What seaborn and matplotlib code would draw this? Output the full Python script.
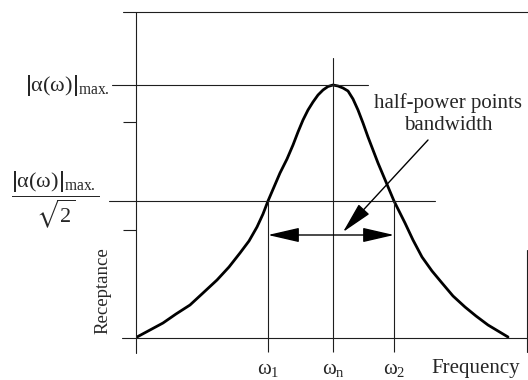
import matplotlib
matplotlib.use("Agg")
import matplotlib.pyplot as plt
import seaborn as sns
import pandas as pd

# Receptance curve (frequency vs. amplitude, arbitrary units)
freq = [1, 14, 27, 40, 54, 67, 81, 93, 104, 113, 121, 127, 132, 138, 144,
        151, 157, 162, 167, 172, 177, 182, 187, 192, 197,
        202, 207, 212, 217, 222, 227, 232, 237, 242, 250, 258, 264, 269,
        277, 286, 296, 306, 317, 329, 340, 352, 362, 372]
receptance = [1, 8, 15, 24, 33, 45, 58, 71, 85, 97, 111, 124, 137, 151, 165,
              179, 193, 206, 218, 228, 236, 243, 248, 251.5, 253,
              252, 250, 247, 239, 228, 215, 201, 188, 175, 156, 137, 125, 115,
              98, 81, 67, 55, 42, 31, 22, 13, 7, 1]

# Characteristic frequencies and levels
omega_pos = [132, 197, 258]
omega_labels = [r"$\omega_1$", r"$\omega_\mathrm{n}$", r"$\omega_2$"]
peak_level = 253
half_level = 137
minor_yticks = [108, 216]
x_max, y_max = 391, 326

sns.set_style("white")
plt.rcParams["font.family"] = ["Liberation Serif", "DejaVu Serif"]
plt.rcParams["mathtext.fontset"] = "custom"
plt.rcParams["mathtext.rm"] = "Liberation Serif"
plt.rcParams["mathtext.it"] = "Liberation Serif"
plt.rcParams["mathtext.bf"] = "Liberation Serif:bold"
plt.rcParams["mathtext.fallback"] = "stix"

ink = "#1e1e1e"
thin = 0.8

fig = plt.figure(figsize=(5.28, 3.80), dpi=100)
ax = fig.add_axes([136 / 528, 42 / 380, 391 / 528, 326 / 380])
ax.set_xlim(0, x_max)
ax.set_ylim(0, y_max)
for s in ax.spines.values():
    s.set_visible(False)

df = pd.DataFrame({"Frequency": freq, "Receptance": receptance})
sns.lineplot(data=df, x="Frequency", y="Receptance", ax=ax,
             color="black", linewidth=2.0, sort=False)
ax.lines[-1].set_solid_joinstyle("round")

# frame lines (extend a little past the corners)
ax.plot([0, 0], [-15, y_max], color=ink, lw=thin, clip_on=False)
ax.plot([-14, x_max + 1], [0, 0], color=ink, lw=thin, clip_on=False)
ax.plot([-13, x_max + 1], [y_max, y_max], color=ink, lw=thin, clip_on=False)
ax.plot([x_max, x_max], [-14, 88], color=ink, lw=thin, clip_on=False)

# peak and half-power levels
ax.plot([-24, 232], [peak_level, peak_level], color=ink, lw=thin, clip_on=False)
ax.plot([-27, 299], [half_level, half_level], color=ink, lw=thin, clip_on=False)

# frequency markers
ax.plot([omega_pos[1]] * 2, [0, 280], color=ink, lw=thin)
ax.plot([omega_pos[0]] * 2, [0, half_level], color=ink, lw=thin)
ax.plot([omega_pos[2]] * 2, [0, half_level], color=ink, lw=thin)

ax.set_xticks(omega_pos, labels=omega_labels)
ax.tick_params(axis="x", direction="out", length=10.1, width=thin,
               color=ink, labelsize=15, pad=6, bottom=True)
ax.set_yticks(minor_yticks, labels=["", ""])
ax.tick_params(axis="y", direction="out", length=9.4, width=thin,
               color=ink, left=True)

# level labels
ax.text(-26, peak_level, r"$\left|\alpha(\omega)\right|_{\mathrm{max.}}$",
        ha="right", va="center", fontsize=16, clip_on=False)
ax.text(-36, half_level + 1,
        r"$\dfrac{\left|\alpha(\omega)\right|_{\mathrm{max.}}}{\sqrt{2}}$",
        ha="right", va="center", fontsize=16, clip_on=False)

# bandwidth arrow
arrow_style = "<|-|>,head_length=1.3,head_width=0.3"
ax.annotate("", xy=(omega_pos[0], 103), xytext=(omega_pos[2], 103),
            arrowprops=dict(arrowstyle=arrow_style, mutation_scale=15,
                            color="black", lw=1.0, shrinkA=0, shrinkB=0))
ax.annotate("", xy=(207, 106), xytext=(292, 198),
            arrowprops=dict(arrowstyle="-|>,head_length=1.3,head_width=0.3",
                            mutation_scale=15, color="black", lw=1.0,
                            shrinkA=0, shrinkB=0),
            annotation_clip=False)
ax.text(312, 224, "half-power points\nbandwidth", ha="center", va="center",
        fontsize=15, linespacing=1.2, clip_on=False)

ax.set_xlabel("Frequency", fontsize=15)
ax.xaxis.set_label_coords(0.87, -0.065)
ax.set_ylabel("Receptance", fontsize=13.5)
ax.yaxis.set_label_coords(-0.064, 0.144)

fig.savefig("out.png", dpi=100)
